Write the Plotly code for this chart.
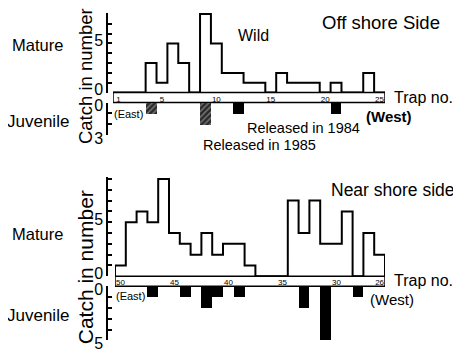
import plotly.graph_objects as go

# ---------------- data ----------------
off_traps = list(range(1, 26))
off_mature = [0, 0, 0, 3, 1, 5, 3, 0, 8, 5, 2, 2, 1, 1, 0, 2, 1, 1, 1, 0, 1, 0, 0, 2, 0]
off_juv_1984_traps = [12, 21]
off_juv_1984 = [1, 1]
off_juv_1985_traps = [4, 9]
off_juv_1985 = [1, 2]
off_tick_labels = [1, 5, 10, 15, 20, 25]

near_traps = list(range(50, 25, -1))
near_mature = [1, 5, 6, 5, 9, 4, 3, 2, 4, 2, 3, 3, 1, 0, 0, 0, 7, 4, 7, 3, 3, 6, 0, 4, 2]
near_juv = [0, 0, 0, 1, 0, 0, 1, 0, 2, 1, 0, 1, 0, 0, 0, 0, 0, 2, 0, 5, 0, 0, 1, 0, 0]
near_tick_labels = [50, 45, 40, 35, 30, 26]

W, H = 461, 354
FONT = "Liberation Sans, Arial, sans-serif"

# mapping of target screen pixels to paper coordinates (page offset / scale compensation)
X_OFF = 8
Y_OFF, Y_SCALE = 16, 0.951


def px(x):
    return (x - X_OFF) / W


def py(y):
    fy = (y - Y_OFF) / Y_SCALE
    return min(1.0, max(0.0, 1 - fy / H))


def step_path(traps, vals, direction):
    # outline of a histogram with unit-wide bins centred on traps
    xs, ys = [traps[0] - 0.5 * direction], [0]
    for t, v in zip(traps, vals):
        xs += [t - 0.5 * direction, t + 0.5 * direction]
        ys += [v, v]
    xs.append(traps[-1] + 0.5 * direction)
    ys.append(0)
    return xs, ys


fig = go.Figure()

# top: offshore
xs, ys = step_path(off_traps, off_mature, 1)
fig.add_trace(go.Scatter(x=xs, y=ys, mode="lines", line=dict(color="black", width=2),
                         xaxis="x", yaxis="y", showlegend=False, hoverinfo="skip"))
fig.add_trace(go.Bar(x=off_juv_1984_traps, y=off_juv_1984, width=1, marker=dict(color="black", line_width=0),
                     xaxis="x", yaxis="y2", showlegend=False))
fig.add_trace(go.Bar(x=off_juv_1985_traps, y=off_juv_1985, width=1,
                     marker=dict(color="#333333", line=dict(width=0),
                                 pattern=dict(shape="/", bgcolor="#2a2a2a", fgcolor="#dddddd", size=4, solidity=0.3)),
                     xaxis="x", yaxis="y2", showlegend=False))

# bottom: near shore
xs, ys = step_path(near_traps, near_mature, -1)
fig.add_trace(go.Scatter(x=xs, y=ys, mode="lines", line=dict(color="black", width=2),
                         xaxis="x2", yaxis="y3", showlegend=False, hoverinfo="skip"))
fig.add_trace(go.Bar(x=near_traps, y=near_juv, width=1, marker=dict(color="black", line_width=0),
                     xaxis="x2", yaxis="y4", showlegend=False))

ytick_font = dict(family=FONT, size=16, color="black")
strip_font = dict(family=FONT, size=8, color="black")

common_y = dict(showgrid=False, zeroline=False, showline=True, linecolor="black", linewidth=1.5,
                ticks="inside", ticklen=4, tickwidth=1.5, tickcolor="black", tickfont=ytick_font,
                anchor="free", position=px(107), fixedrange=True)

# top mature axis: zero at screen y 95.5, value 8 just below the reachable top
top0, top8 = 95.5, 17.0
top_max = 8 * (top0 - Y_OFF) / (top0 - top8)

fig.update_layout(
    width=W, height=H, margin=dict(l=0, r=0, t=0, b=0),
    paper_bgcolor="white", plot_bgcolor="rgba(0,0,0,0)",
    barmode="overlay", bargap=0,
    font=dict(family=FONT, color="black"),
    xaxis=dict(domain=[px(113), px(385)], range=[0.5, 25.5], anchor="y", showgrid=False, zeroline=False,
               showline=False, ticks="", tickvals=off_tick_labels, ticktext=[str(t) for t in off_tick_labels],
               tickfont=strip_font, fixedrange=True),
    xaxis2=dict(domain=[px(115), px(385)], range=[50.5, 25.5], anchor="y3", showgrid=False, zeroline=False,
                showline=False, ticks="", tickvals=near_tick_labels, ticktext=[str(t) for t in near_tick_labels],
                tickfont=strip_font, fixedrange=True),
    yaxis=dict(domain=[py(top0), 1.0], range=[0, top_max], ticklabelshift=-3,
               tickvals=list(range(0, 9)), ticktext=["0", "", "", "", "", "5", "", "", ""], **common_y),
    yaxis2=dict(domain=[py(138), py(105.5)], range=[3, 0], ticklabelshift=-3,
                tickvals=list(range(0, 4)), ticktext=["0", "", "", "3"], **common_y),
    yaxis3=dict(domain=[py(279), py(279 - 9.15 * 10.8)], range=[0, 9.15], ticklabelshift=-3,
                tickvals=list(range(0, 10)), ticktext=["0", "", "", "", "", "5", "", "", "", ""], **common_y),
    yaxis4=dict(domain=[py(343), py(289)], range=[5, 0], ticklabelshift=-3,
                tickvals=list(range(0, 6)), ticktext=["0", "", "", "", "", "5"], **common_y),
)

# strips (trap number bars)
fig.add_shape(type="rect", xref="x", yref="paper", x0=0.5, x1=25.5, y0=py(105.5), y1=py(95.5),
              line=dict(color="black", width=1.5), fillcolor="white", layer="below")
fig.add_shape(type="rect", xref="x2", yref="paper", x0=50.5, x1=25.5, y0=py(289), y1=py(279),
              line=dict(color="black", width=1.5), fillcolor="white", layer="below")


def txt(x, y, s, size=15, angle=0, xanchor="center", bold=False):
    fig.add_annotation(x=px(x), y=py(y), xref="paper", yref="paper", text=("<b>%s</b>" % s) if bold else s,
                       showarrow=False, textangle=angle, xanchor=xanchor, yanchor="middle",
                       font=dict(family=FONT, size=size, color="black"))


# labels top
txt(38, 48, "Mature", 16.5)
txt(38, 124, "Juvenile", 17)
txt(85, 79, "Catch in number", 18.5, angle=-90)
txt(254, 38, "Wild", 16)
txt(381, 25, "Off shore Side", 18.5)
txt(392, 100, "Trap no.", 16, xanchor="left")
txt(112, 117, "(East)", 11, xanchor="left")
txt(389, 119, "(West)", 15, bold=True)
txt(303, 130.5, "Released in 1984", 14.5)
txt(259, 147.5, "Released in 1985", 14.5)

# labels bottom
txt(38, 237, "Mature", 16.5)
txt(38, 318, "Juvenile", 17)
txt(85, 270, "Catch in number", 21, angle=-90)
txt(457, 193, "Near shore side", 17.5, xanchor="right")
txt(392, 283, "Trap no.", 16, xanchor="left")
txt(114, 299, "(East)", 11, xanchor="left")
txt(392, 302, "(West)", 15)

fig.write_html("out.html")
